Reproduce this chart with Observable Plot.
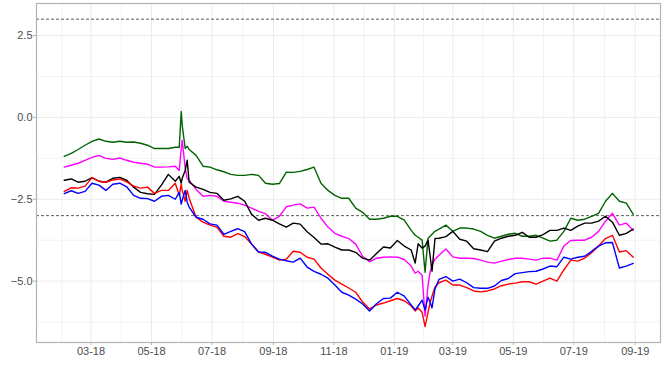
<!DOCTYPE html>
<html>
<head>
<meta charset="utf-8">
<script src="https://cdn.jsdelivr.net/npm/d3@7"></script>
<script src="https://cdn.jsdelivr.net/npm/@observablehq/plot@0.6"></script>
<style>
  html, body { margin: 0; padding: 0; background: #fff; }
  #chart { width: 664px; height: 369px; }
</style>
</head>
<body>
<div id="chart"></div>
<script>
const dates = ["2018-02-02","2018-02-09","2018-02-16","2018-02-23","2018-03-02","2018-03-09","2018-03-16","2018-03-23","2018-03-30","2018-04-06","2018-04-13","2018-04-20","2018-04-27","2018-05-04","2018-05-11","2018-05-18","2018-05-25","2018-05-29","2018-05-31","2018-06-01","2018-06-04","2018-06-06","2018-06-08","2018-06-15","2018-06-22","2018-06-29","2018-07-06","2018-07-13","2018-07-20","2018-07-27","2018-08-03","2018-08-10","2018-08-17","2018-08-24","2018-08-31","2018-09-07","2018-09-14","2018-09-21","2018-09-28","2018-10-05","2018-10-12","2018-10-19","2018-10-26","2018-11-02","2018-11-09","2018-11-16","2018-11-23","2018-11-30","2018-12-07","2018-12-14","2018-12-21","2018-12-28","2019-01-04","2019-01-11","2019-01-18","2019-01-22","2019-01-25","2019-01-29","2019-02-01","2019-02-04","2019-02-06","2019-02-08","2019-02-11","2019-02-15","2019-02-22","2019-03-01","2019-03-08","2019-03-15","2019-03-22","2019-03-29","2019-04-05","2019-04-12","2019-04-19","2019-04-26","2019-05-03","2019-05-10","2019-05-17","2019-05-24","2019-05-31","2019-06-07","2019-06-14","2019-06-21","2019-06-28","2019-07-05","2019-07-12","2019-07-19","2019-07-26","2019-08-02","2019-08-09","2019-08-16","2019-08-23","2019-08-30"];

const green = [-1.19,-1.10,-0.98,-0.85,-0.73,-0.66,-0.73,-0.76,-0.73,-0.76,-0.75,-0.79,-0.85,-0.95,-0.95,-0.95,-0.91,-0.91,0.18,-0.24,-0.95,-0.88,-0.98,-1.16,-1.49,-1.52,-1.60,-1.66,-1.74,-1.77,-1.77,-1.74,-1.77,-2.01,-2.04,-2.02,-1.67,-1.68,-1.65,-1.59,-1.52,-2.01,-2.23,-2.38,-2.47,-2.47,-2.77,-2.90,-3.11,-3.11,-3.08,-3.02,-3.02,-3.14,-3.45,-3.60,-3.66,-3.75,-4.73,-3.69,-3.63,-3.57,-3.48,-3.41,-3.29,-3.48,-3.38,-3.38,-3.41,-3.48,-3.60,-3.69,-3.63,-3.57,-3.54,-3.63,-3.63,-3.60,-3.69,-3.78,-3.75,-3.48,-3.08,-3.14,-3.11,-3.02,-2.93,-2.56,-2.32,-2.56,-2.62,-2.96];

const magenta = [-1.52,-1.46,-1.40,-1.31,-1.22,-1.16,-1.25,-1.28,-1.24,-1.31,-1.37,-1.40,-1.43,-1.52,-1.52,-1.51,-1.49,-1.62,-0.95,-0.70,-1.55,-1.86,-1.92,-2.20,-2.41,-2.38,-2.41,-2.56,-2.59,-2.62,-2.68,-2.77,-2.87,-2.94,-3.14,-3.02,-2.73,-2.68,-2.64,-2.77,-2.74,-3.08,-3.35,-3.54,-3.63,-3.70,-3.87,-4.24,-4.41,-4.30,-4.27,-4.26,-4.27,-4.34,-4.54,-4.76,-4.70,-4.82,-6.07,-5.12,-4.73,-4.51,-4.33,-4.21,-4.02,-4.26,-4.30,-4.30,-4.31,-4.36,-4.42,-4.45,-4.39,-4.34,-4.30,-4.30,-4.33,-4.36,-4.30,-4.30,-4.36,-3.93,-3.76,-3.75,-3.75,-3.66,-3.48,-3.17,-2.93,-3.29,-3.23,-3.45];

const black = [-1.92,-1.88,-1.98,-1.95,-1.84,-1.95,-1.98,-1.86,-1.83,-1.92,-2.13,-2.29,-2.33,-2.35,-2.07,-1.74,-1.95,-1.80,-2.01,-1.86,-1.62,-1.31,-1.98,-2.13,-2.20,-2.29,-2.32,-2.53,-2.49,-2.41,-2.56,-2.96,-3.14,-3.08,-3.14,-3.25,-3.35,-3.23,-3.26,-3.49,-3.67,-3.87,-3.86,-3.96,-4.05,-4.05,-4.12,-4.30,-4.36,-4.16,-3.96,-3.99,-3.76,-3.93,-4.05,-4.45,-3.86,-3.99,-3.93,-3.75,-4.21,-4.70,-3.70,-3.69,-3.64,-3.48,-3.72,-3.78,-4.01,-4.05,-4.10,-3.78,-3.69,-3.63,-3.60,-3.51,-3.66,-3.66,-3.58,-3.45,-3.45,-3.38,-3.45,-3.32,-3.23,-3.23,-3.17,-3.02,-3.20,-3.60,-3.54,-3.41];

const red = [-2.26,-2.15,-2.16,-2.10,-1.84,-1.95,-1.98,-1.91,-1.88,-1.97,-2.10,-2.16,-2.13,-2.32,-2.23,-2.23,-2.01,-2.38,-2.04,-2.23,-2.56,-2.23,-2.47,-3.05,-3.20,-3.29,-3.35,-3.63,-3.66,-3.55,-3.64,-3.87,-4.11,-4.18,-4.27,-4.36,-4.33,-4.09,-4.12,-4.27,-4.33,-4.60,-4.79,-4.97,-5.09,-5.21,-5.34,-5.64,-5.85,-5.73,-5.67,-5.60,-5.53,-5.60,-5.76,-5.91,-5.82,-5.95,-6.39,-5.95,-5.67,-5.46,-5.18,-5.05,-4.97,-5.12,-5.12,-5.20,-5.30,-5.33,-5.30,-5.24,-5.14,-5.09,-5.06,-5.02,-5.02,-5.09,-5.00,-4.91,-5.00,-4.66,-4.36,-4.39,-4.30,-4.13,-3.93,-3.70,-3.60,-4.11,-4.07,-4.27];

const blue = [-2.33,-2.24,-2.32,-2.26,-2.01,-2.07,-2.23,-2.04,-2.01,-2.12,-2.38,-2.47,-2.48,-2.56,-2.41,-2.38,-2.50,-2.29,-2.65,-2.53,-2.23,-2.59,-2.74,-3.05,-3.11,-3.25,-3.29,-3.57,-3.48,-3.40,-3.49,-3.87,-4.11,-4.12,-4.24,-4.33,-4.38,-4.42,-4.30,-4.57,-4.70,-4.79,-4.91,-5.12,-5.34,-5.43,-5.55,-5.70,-5.91,-5.69,-5.53,-5.52,-5.34,-5.46,-5.73,-5.88,-5.76,-5.58,-5.88,-5.49,-5.64,-5.82,-5.24,-4.95,-4.86,-5.00,-4.94,-5.05,-5.20,-5.22,-5.22,-5.15,-4.98,-4.92,-4.77,-4.74,-4.71,-4.70,-4.63,-4.54,-4.56,-4.27,-4.33,-4.27,-4.24,-4.09,-3.93,-3.83,-3.82,-4.60,-4.54,-4.46];

const seriesNames = ["green", "magenta", "black", "red", "blue"];
const seriesValues = [green, magenta, black, red, blue];
const seriesColors = ["#006400", "#ff00ff", "#000000", "#ff0000", "#0000ff"];

const refLines = [3, -3];
const yTicks = [2.5, 0, -2.5, -5];
const yMinor = [1.25, -1.25, -3.75, -6.25];
const xTicks = ["2018-03-01","2018-05-01","2018-07-01","2018-09-01","2018-11-01","2019-01-01","2019-03-01","2019-05-01","2019-07-01","2019-09-01"];
const xMinor = ["2018-01-30T12:00Z","2018-03-31T12:00Z","2018-05-31T12:00Z","2018-08-01T00:00Z","2018-09-30T12:00Z","2018-12-01T12:00Z","2019-01-30T12:00Z","2019-03-31T12:00Z","2019-05-31T12:00Z","2019-08-01T00:00Z"];
const xDomain = ["2018-01-05T00:00Z", "2019-09-26T12:00Z"];
const yDomain = [-6.875, 3.479];

const parse = s => new Date(s.length === 10 ? s + "T00:00Z" : s);
const rows = seriesNames.flatMap((name, i) =>
  dates.map((d, j) => ({series: name, date: parse(d), value: seriesValues[i][j]}))
);

const gridColor = "#ebebeb";
const tickColor = "#b3b3b3";
const textColor = "#4d4d4d";
const fmt = d3.utcFormat("%m-%y");

const chart = Plot.plot({
  width: 664,
  height: 369,
  marginLeft: 36,
  marginRight: 4,
  marginTop: 3,
  marginBottom: 27,
  style: {fontFamily: "'Liberation Sans', Arial, sans-serif", fontSize: "11px", background: "#fff"},
  x: {type: "utc", domain: xDomain.map(parse), axis: null, label: null},
  y: {domain: yDomain, axis: null, label: null},
  marks: [
    Plot.ruleX(xMinor.map(parse), {stroke: gridColor, strokeWidth: 0.6}),
    Plot.ruleY(yMinor, {stroke: gridColor, strokeWidth: 0.6}),
    Plot.ruleX(xTicks.map(parse), {stroke: gridColor, strokeWidth: 1}),
    Plot.ruleY(yTicks, {stroke: gridColor, strokeWidth: 1}),
    Plot.ruleY(refLines, {stroke: "#333", strokeWidth: 0.8, strokeDasharray: "3,2"}),
    ...seriesNames.map((name, i) =>
      Plot.line(rows.filter(r => r.series === name), {x: "date", y: "value", stroke: seriesColors[i], strokeWidth: 1.4})
    ),
    Plot.frame({stroke: tickColor, strokeWidth: 1.2}),
    Plot.axisX({ticks: xTicks.map(parse), tickSize: 3, tickFormat: () => "", color: tickColor, label: null}),
    Plot.axisX({ticks: xTicks.map(parse), tickSize: 0, tickPadding: 5, tickFormat: fmt, color: textColor, fontSize: 11, label: null}),
    Plot.axisY({ticks: yTicks, tickSize: 3, tickFormat: () => "", color: tickColor, label: null}),
    Plot.axisY({ticks: yTicks, tickSize: 0, tickPadding: 4, tickFormat: d3.format(".1f"), color: textColor, fontSize: 11, label: null})
  ]
});
document.getElementById("chart").appendChild(chart);
</script>
</body>
</html>
